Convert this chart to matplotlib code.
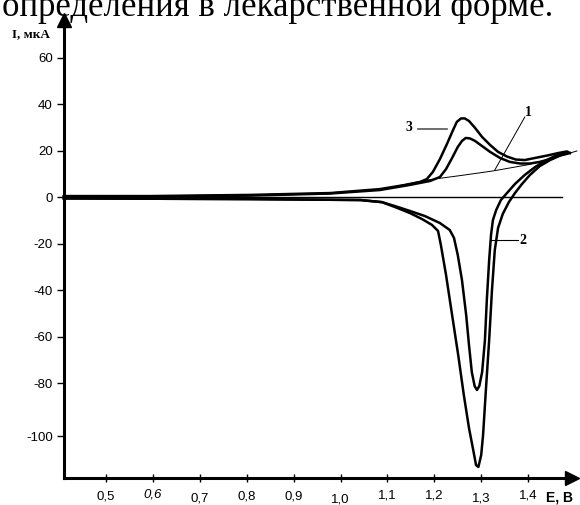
import matplotlib
matplotlib.use("Agg")
import matplotlib.pyplot as plt
from matplotlib.transforms import ScaledTranslation

plt.rcParams['font.family'] = ['Liberation Sans', 'DejaVu Sans']

# Curve 3 (larger peaks): forward (anodic) scan, then reverse (cathodic) scan
c3_fwd_E = [0.410, 0.594, 0.807, 0.978, 1.084, 1.138, 1.170, 1.184, 1.197, 1.212, 1.227, 1.240,
            1.248, 1.257, 1.265, 1.274, 1.287, 1.302, 1.319, 1.336, 1.355, 1.374, 1.393, 1.415,
            1.440, 1.464, 1.483, 1.489]
c3_fwd_I = [0.4, 0.4, 0.9, 1.7, 3.4, 5.2, 6.5, 7.7, 10.8, 16.3, 22.8, 28.8,
            32.3, 33.8, 33.8, 32.7, 29.7, 25.8, 22.4, 19.4, 17.4, 16.1, 15.9, 16.8,
            17.8, 18.9, 19.6, 18.9]
c3_rev_E = [1.489, 1.468, 1.447, 1.425, 1.404, 1.387, 1.372, 1.359, 1.346, 1.336, 1.329, 1.323,
            1.317, 1.310, 1.304, 1.300, 1.294, 1.289, 1.283, 1.274, 1.263, 1.251, 1.238, 1.225,
            1.214, 1.208, 1.195, 1.174, 1.148, 1.116, 1.088, 1.042, 0.807, 0.410]
c3_rev_I = [18.9, 17.8, 15.9, 13.3, 9.5, 5.6, 1.7, -2.2, -7.3, -13.3, -22.8, -40.0,
            -61.5, -83.0, -102.4, -111.0, -116.1, -115.3, -108.8, -99.4, -85.2, -68.0, -50.8, -33.5,
            -20.6, -14.6, -12.0, -9.5, -6.9, -4.3, -2.2, -1.3, -0.9, -0.6]

# Curve 2 (smaller peaks)
c2_fwd_E = [0.410, 0.594, 0.807, 0.978, 1.084, 1.148, 1.191, 1.212, 1.225, 1.238, 1.250, 1.259,
            1.267, 1.276, 1.287, 1.302, 1.319, 1.340, 1.361, 1.383, 1.404, 1.425, 1.447, 1.468,
            1.479]
c2_fwd_I = [0.2, 0.2, 0.6, 1.5, 3.0, 5.2, 6.9, 8.6, 12.0, 16.8, 21.5, 24.1,
            25.4, 25.2, 24.1, 21.9, 19.4, 16.8, 15.1, 14.4, 14.4, 15.1, 16.3, 18.1,
            18.9]
c2_rev_E = [1.479, 1.457, 1.436, 1.415, 1.393, 1.372, 1.355, 1.342, 1.332, 1.325, 1.321, 1.317,
            1.312, 1.308, 1.302, 1.296, 1.291, 1.286, 1.280, 1.274, 1.268, 1.259, 1.250, 1.242,
            1.233, 1.212, 1.180, 1.148, 1.116, 1.088, 1.042, 0.807, 0.410]
c2_rev_I = [18.9, 17.6, 15.5, 12.9, 9.5, 5.6, 1.7, -1.3, -5.6, -9.9, -16.3, -27.1,
            -44.3, -61.5, -75.3, -81.3, -83.0, -81.3, -75.3, -63.7, -50.8, -35.7, -24.9, -17.6,
            -14.2, -11.2, -8.2, -6.0, -3.9, -2.2, -1.3, -0.9, -0.6]

# Curve 1 (background, thin)
c1_E = [0.410, 0.807, 0.978, 1.084, 1.184, 1.255, 1.325, 1.398, 1.447, 1.504]
c1_I = [0.0, 0.9, 1.7, 3.2, 7.3, 9.2, 11.2, 13.8, 16.3, 19.8]

x_ticks = [0.5, 0.6, 0.7, 0.8, 0.9, 1.0, 1.1, 1.2, 1.3, 1.4]
x_labels = ['0,5', '0,6', '0,7', '0,8', '0,9', '1,0', '1,1', '1,2', '1,3', '1,4']
y_ticks = [60, 40, 20, 0, -20, -40, -60, -80, -103]
y_labels = ['60', '40', '20', '0', '-20', '-40', '-60', '-80', '-100']

fig = plt.figure(figsize=(5.8, 5.05), dpi=100)
ax = fig.add_axes([64 / 580, 27 / 505, 513 / 580, 458 / 505])
xmin, xmax = 0.4104, 1.5043
ymin, ymax = -120.86, 76.13
ax.set_xlim(xmin, xmax)
ax.set_ylim(ymin, ymax)

# zero line
ax.plot([0.410, 1.472], [0, 0], color='black', lw=1.0)

# curves
ax.plot(c1_E, c1_I, color='black', lw=0.7, clip_on=False)
for e, i in [(c2_fwd_E, c2_fwd_I), (c2_rev_E, c2_rev_I),
             (c3_fwd_E, c3_fwd_I), (c3_rev_E, c3_rev_I)]:
    ax.plot(e, i, color='black', lw=1.8, solid_joinstyle='round', clip_on=False)

# curve labels
ax.plot([1.329, 1.393], [11.6, 34.4], color='black', lw=0.7)
ax.text(1.400, 36.5, '1', family='Liberation Serif', weight='bold', fontsize=10,
        ha='center', va='center')
ax.plot([1.165, 1.227], [29.2, 29.2], color='#555555', lw=1.2)
ax.text(1.146, 29.7, '3', family='Liberation Serif', weight='bold', fontsize=10,
        ha='center', va='center')
ax.plot([1.319, 1.378], [-18.5, -18.5], color='black', lw=0.8)
ax.text(1.381, -18.5, '2', family='Liberation Serif', weight='bold', fontsize=10,
        ha='left', va='center')

# axes with arrows
for s in ['top', 'right']:
    ax.spines[s].set_visible(False)
for s in ['left', 'bottom']:
    ax.spines[s].set_linewidth(2.2)
ax.spines['bottom'].set_bounds(xmin, 1.4935)
ax.plot([xmin], [ymax], marker='^', color='black', ms=10, clip_on=False)
ax.plot([1.4935], [ymin], marker='>', color='black', ms=10, clip_on=False)

ax.set_xticks(x_ticks)
ax.set_xticklabels(x_labels)
ax.set_yticks(y_ticks)
ax.set_yticklabels(y_labels)
ax.tick_params(axis='x', direction='inout', length=6, width=1.0, pad=6, labelsize=9.5)
ax.tick_params(axis='y', direction='out', length=5, width=1.0, pad=3, labelsize=9.5)

# uneven hand-drawn tick labels
x_dy = [0, 2, -2, 0, 0, -2.5, 1, 1, -2, 1]
for lbl, dy in zip(ax.get_xticklabels(), x_dy):
    lbl.set_transform(lbl.get_transform() + ScaledTranslation(0, dy / 100, fig.dpi_scale_trans))
ax.get_xticklabels()[1].set_style('italic')

fig.text(31 / 580, 1 - 34 / 505, 'I, мкА', family='Liberation Serif', weight='bold',
         fontsize=9.5, ha='center', va='center')
fig.text(560 / 580, 1 - 497 / 505, 'E, B', weight='bold', fontsize=10,
         ha='center', va='center')
fig.text(2 / 580, 1 - 16 / 505, 'определения в лекарственной форме.',
         family='Liberation Serif', fontsize=25, ha='left', va='baseline')

fig.savefig('out.png', dpi=100)
